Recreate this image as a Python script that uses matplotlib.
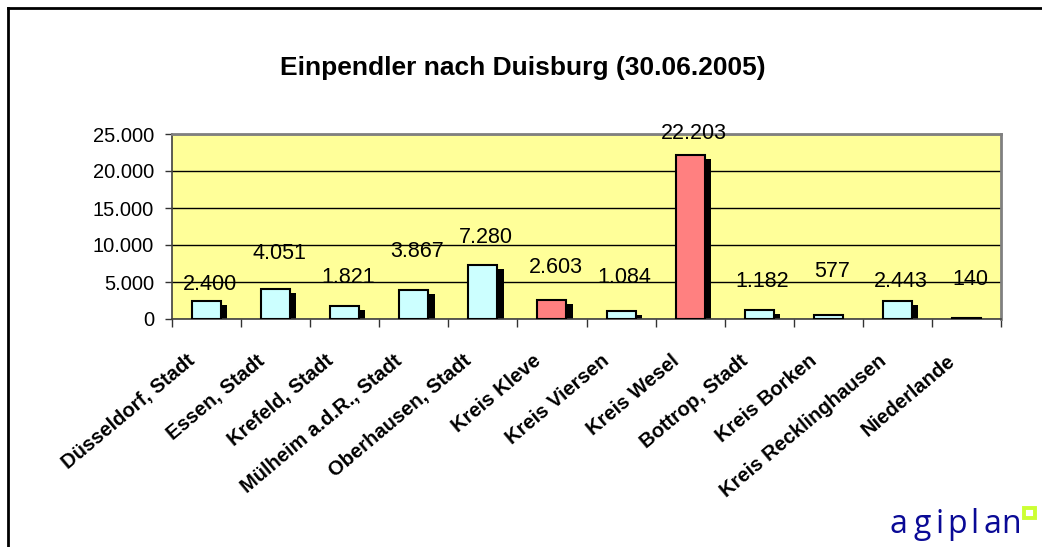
import matplotlib
matplotlib.use("Agg")
import matplotlib.pyplot as plt
import matplotlib.transforms as mtransforms
from matplotlib.patches import Rectangle
from matplotlib.lines import Line2D
import numpy as np

# ---- data ----
categories = ["Düsseldorf, Stadt", "Essen, Stadt", "Krefeld, Stadt", "Mülheim a.d.R., Stadt",
              "Oberhausen, Stadt", "Kreis Kleve", "Kreis Viersen", "Kreis Wesel",
              "Bottrop, Stadt", "Kreis Borken", "Kreis Recklinghausen", "Niederlande"]
values = [2400, 4051, 1821, 3867, 7280, 2603, 1084, 22203, 1182, 577, 2443, 140]
highlight = [False, False, False, False, False, True, False, True, False, False, False, False]
yticks = [0, 5000, 10000, 15000, 20000, 25000]
title = "Einpendler nach Duisburg (30.06.2005)"

# label placement tweaks (data units above bar top)
label_offsets = [2262, 4733, 3787, 5322, 3734, 4356, 4524, 2932, 3953, 5842, 2692, 5198]

def fmt(v):
    return f"{v:,}".replace(",", ".")

plt.rcParams['font.family'] = ['Liberation Sans', 'DejaVu Sans']

W, H = 1042, 547
fig = plt.figure(figsize=(W / 100, H / 100), dpi=100)
fig.patch.set_facecolor("white")

ax = fig.add_axes([172 / W, 1 - 319 / H, (1001 - 172) / W, (319 - 134) / H])
ax.set_facecolor("#FFFF99")

n = len(categories)
x = np.arange(n)
bw = 0.42
# shadows
dx_shadow = 0.09
dy_shadow = 540
for xi, v in zip(x, values):
    ax.bar(xi + dx_shadow, max(v - dy_shadow, 0), width=bw, color="black", zorder=2, linewidth=0)
for xi, v, h in zip(x, values, highlight):
    ax.bar(xi, v, width=bw, color="#FF8080" if h else "#CCFFFF",
           edgecolor="black", linewidth=1.5, zorder=3)

ax.set_xlim(-0.5, n - 0.5)
ax.set_ylim(0, 25000)
ax.set_yticks(yticks)
ax.set_yticklabels([fmt(t) for t in yticks], fontsize=14.5)
ax.yaxis.grid(True, color="black", linewidth=1)
ax.set_axisbelow(True)
ax.tick_params(axis="y", length=5, width=1, pad=8, colors="#333333", labelcolor="black")
ax.set_xticks(np.arange(-0.5, n, 1.0))
ax.set_xticklabels([])
ax.tick_params(axis="x", length=6, width=1, colors="#333333")
for s in ["top", "right"]:
    ax.spines[s].set_color("#808080")
    ax.spines[s].set_linewidth(2)
for s in ["left", "bottom"]:
    ax.spines[s].set_color("#404040")
    ax.spines[s].set_linewidth(1.2)

# value labels
for xi, v, off in zip(x, values, label_offsets):
    ax.text(xi + 0.05, v + off, fmt(v), ha="center", va="center", fontsize=15.5,
            zorder=5, clip_on=False)

# category labels
trans = ax.get_xaxis_transform() + mtransforms.ScaledTranslation(-20 / 100, -32 / 100, fig.dpi_scale_trans)
for xi, c in zip(x, categories):
    ax.text(xi, 0, c, transform=trans, rotation=40, rotation_mode="anchor",
            ha="right", va="top", fontsize=14.5, fontweight="bold")

# title
fig.text(523 / W, 1 - 68 / H, title, ha="center", va="center", fontsize=19, fontweight="bold")

# outer frame
fig.add_artist(Line2D([8 / W, 1], [1 - 8 / H, 1 - 8 / H], color="black", linewidth=2, transform=fig.transFigure))
fig.add_artist(Line2D([8 / W, 8 / W], [0, 1 - 8 / H], color="black", linewidth=2, transform=fig.transFigure))

# logo
logo = "agiplan"
logo_x = [898, 922, 940, 957, 974, 992, 1011]
for px, ch in zip(logo_x, logo):
    fig.text(px / W, 1 - 533 / H, ch, ha="center", va="baseline", fontsize=23,
             color="#0A0A96", family=["Open Sans", "DejaVu Sans"])
fig.add_artist(Rectangle((1024 / W, 1 - 518 / H), 11 / W, 10 / H, fill=False,
                         edgecolor="#CCFF33", linewidth=2.8, transform=fig.transFigure))

fig.savefig("out.png", dpi=100)
